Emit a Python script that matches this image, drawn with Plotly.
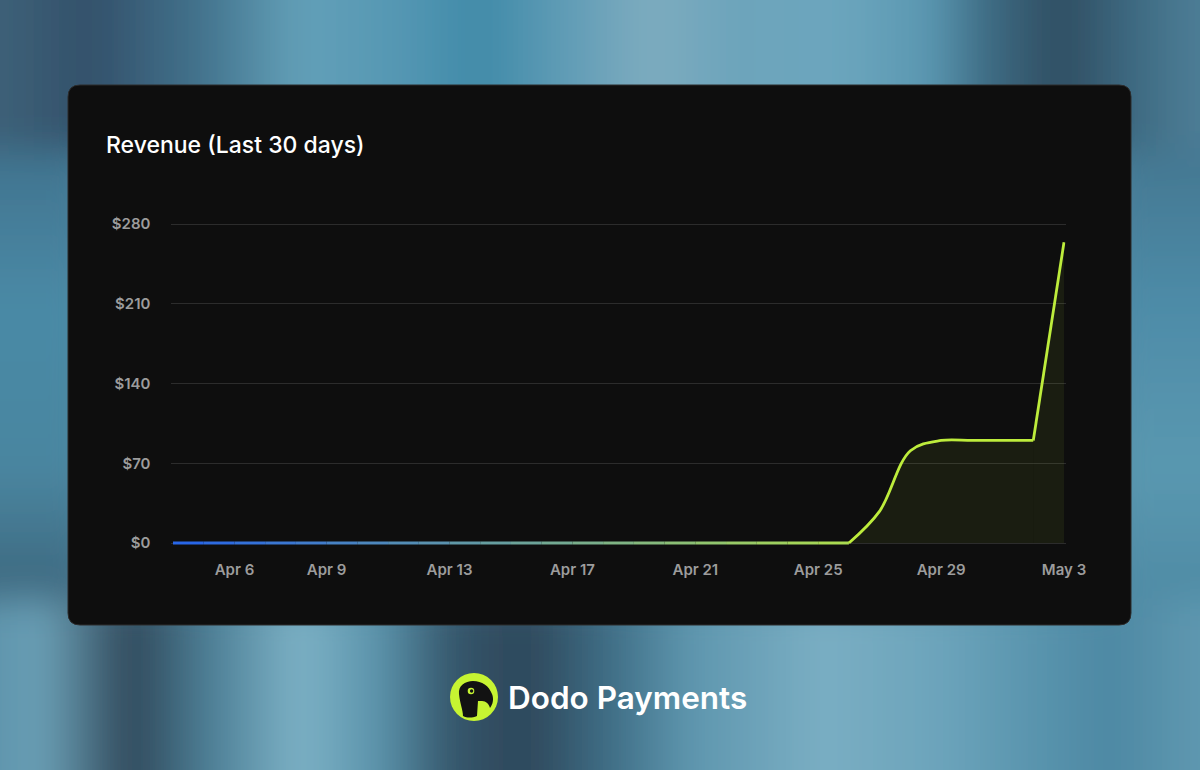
import base64
from datetime import datetime, timedelta
import plotly.graph_objects as go

# ---------------- data ----------------
dates = [
    "2025-04-04", "2025-04-05", "2025-04-06", "2025-04-07", "2025-04-08",
    "2025-04-09", "2025-04-10", "2025-04-11", "2025-04-12", "2025-04-13",
    "2025-04-14", "2025-04-15", "2025-04-16", "2025-04-17", "2025-04-18",
    "2025-04-19", "2025-04-20", "2025-04-21", "2025-04-22", "2025-04-23",
    "2025-04-24", "2025-04-25", "2025-04-26", "2025-04-27", "2025-04-28",
    "2025-04-29", "2025-04-30", "2025-05-01", "2025-05-02", "2025-05-03",
]
revenue = [
    0, 0, 0, 0, 0,
    0, 0, 0, 0, 0,
    0, 0, 0, 0, 0,
    0, 0, 0, 0, 0,
    0, 0, 0, 28, 81,
    90, 90, 90, 90, 264,
]
y_tick_values = [0, 70, 140, 210, 280]
y_tick_labels = ["$0", "$70", "$140", "$210", "$280"]
x_tick_dates = ["2025-04-06", "2025-04-09", "2025-04-13", "2025-04-17",
                "2025-04-21", "2025-04-25", "2025-04-29", "2025-05-03"]
x_tick_labels = ["Apr 6", "Apr 9", "Apr 13", "Apr 17",
                 "Apr 21", "Apr 25", "Apr 29", "May 3"]
title_text = "Revenue (Last 30 days)"
brand_text = "Dodo Payments"

# ---------------- geometry helpers ----------------
W, H = 1200, 770


def px(x):
    return x / W


def py(y):
    return 1 - y / H


X0_PX, X1_PX = 173, 1064      # first / last date
Y0_PX, YTOP_PX = 543, 224     # $0 / $280
day_px = (X1_PX - X0_PX) / (len(dates) - 1)
pad_days = 0.05
unit = (Y0_PX - YTOP_PX) / 280
ypad = 4
x_domain = [px(X0_PX - pad_days * day_px), px(X1_PX + pad_days * day_px)]
y_domain = [py(Y0_PX + ypad * unit), py(YTOP_PX - ypad * unit)]
d0 = datetime.fromisoformat(dates[0]) - timedelta(days=pad_days)
d1 = datetime.fromisoformat(dates[-1]) + timedelta(days=pad_days)
x_range = [d0.strftime("%Y-%m-%d %H:%M:%S"), d1.strftime("%Y-%m-%d %H:%M:%S")]

BLUE = "#2563eb"
LIME = "#c6f432"
LINE_LIME = "#bdec3c"
FILL = "rgba(190,236,60,0.065)"
LW = 2.8


def hex2rgb(h):
    h = h.lstrip("#")
    return tuple(int(h[i:i + 2], 16) for i in (0, 2, 4))


def lerp(c1, c2, t):
    a, b = hex2rgb(c1), hex2rgb(c2)
    t = max(0.0, min(1.0, t))
    return "rgb({},{},{})".format(*[round(a[i] + (b[i] - a[i]) * t) for i in range(3)])


# ---------------- background (blurred svg) ----------------
def grad_stops(lst, lo, span):
    return "".join(
        f"<stop offset='{(x - lo) / span:.4f}' stop-color='{c}'/>" for x, c in lst
    )


top_stops = [(0, '#3d6178'), (90, '#33506a'), (200, '#42728c'), (300, '#63a0b8'),
             (400, '#5597b3'), (480, '#3f8aa8'), (560, '#5e9bb5'), (650, '#7eacbf'),
             (730, '#6da4bb'), (840, '#6ca6bd'), (930, '#5a97b1'), (985, '#3e6c84'),
             (1060, '#2f4d61'), (1140, '#3f6c84'), (1200, '#4e7e96')]
bot_stops = [(0, '#5e94ac'), (40, '#6ca1b7'), (130, '#2f4759'), (210, '#4d7f96'),
             (300, '#7db2c6'), (380, '#5a92aa'), (450, '#35576c'), (525, '#2d4659'),
             (610, '#3f6e86'), (690, '#5e96ae'), (820, '#7aaec3'), (940, '#6ca4bb'),
             (1030, '#5a95ae'), (1110, '#4d88a3'), (1200, '#5f98b0')]
left_stops = [(0, '#3d6a85'), (0.4, '#4a8aa6'), (0.7, '#4a86a0'), (1, '#3a5f75')]
right_stops = [(0, '#3f6f88'), (0.4, '#4e8ca8'), (0.7, '#5a98b0'), (1, '#4c88a2')]

svg = (
    "<svg xmlns='http://www.w3.org/2000/svg' width='1200' height='770' viewBox='0 0 1200 770'>"
    "<defs>"
    f"<linearGradient id='t' x1='0' y1='0' x2='1' y2='0'>{grad_stops(top_stops, -100, 1400)}</linearGradient>"
    f"<linearGradient id='b' x1='0' y1='0' x2='1' y2='0'>{grad_stops(bot_stops, -100, 1400)}</linearGradient>"
    f"<linearGradient id='l' x1='0' y1='0' x2='0' y2='1'>{grad_stops(left_stops, 0, 1)}</linearGradient>"
    f"<linearGradient id='r' x1='0' y1='0' x2='0' y2='1'>{grad_stops(right_stops, 0, 1)}</linearGradient>"
    "<filter id='f' filterUnits='userSpaceOnUse' x='-300' y='-300' width='1800' height='1370'>"
    "<feGaussianBlur stdDeviation='18'/></filter>"
    "</defs>"
    "<rect x='0' y='0' width='1200' height='770' fill='#4f86a0'/>"
    "<g filter='url(#f)'>"
    "<rect x='-100' y='90' width='190' height='540' fill='url(#l)'/>"
    "<rect x='1110' y='90' width='190' height='540' fill='url(#r)'/>"
    "<rect x='-100' y='-100' width='1400' height='250' fill='url(#t)'/>"
    "<rect x='-100' y='600' width='1400' height='270' fill='url(#b)'/>"
    "</g></svg>"
)
bg_uri = "data:image/svg+xml;base64," + base64.b64encode(svg.encode()).decode()

# ---------------- traces ----------------
fig = go.Figure()

n = len(revenue)
rise_idx = next(i for i in range(n - 1) if revenue[i + 1] != revenue[i])
grad_end = dates.index("2025-04-30")

# flat part with blue -> lime gradient, one short segment per day
for i in range(rise_idx):
    fig.add_trace(go.Scatter(
        x=[dates[i], dates[i + 1]], y=[revenue[i], revenue[i + 1]],
        mode="lines", line=dict(color=lerp(BLUE, LIME, (i + 0.5) / grad_end), width=LW),
        hoverinfo="skip", showlegend=False,
    ))

# smooth rise and plateau
fig.add_trace(go.Scatter(
    x=dates[rise_idx:n - 1], y=revenue[rise_idx:n - 1],
    mode="lines", line=dict(color=LINE_LIME, width=LW, shape="spline", smoothing=1.0),
    fill="tozeroy", fillcolor=FILL, hoverinfo="skip", showlegend=False,
))
# final jump
fig.add_trace(go.Scatter(
    x=dates[n - 2:], y=revenue[n - 2:],
    mode="lines", line=dict(color=LINE_LIME, width=LW),
    fill="tozeroy", fillcolor=FILL, hoverinfo="skip", showlegend=False,
))


# ---------------- shapes ----------------
def rounded_rect(x0, y0, x1, y1, r):
    P = lambda x, y: f"{px(x):.5f},{py(y):.5f}"
    return (f"M {P(x0 + r, y0)} L {P(x1 - r, y0)} Q {P(x1, y0)} {P(x1, y0 + r)} "
            f"L {P(x1, y1 - r)} Q {P(x1, y1)} {P(x1 - r, y1)} "
            f"L {P(x0 + r, y1)} Q {P(x0, y1)} {P(x0, y1 - r)} "
            f"L {P(x0, y0 + r)} Q {P(x0, y0)} {P(x0 + r, y0)} Z")


def circle(cx, cy, r, color):
    return dict(type="circle", xref="paper", yref="paper",
                x0=px(cx - r), x1=px(cx + r), y0=py(cy + r), y1=py(cy - r),
                fillcolor=color, line=dict(width=0), layer="above")


def path_px(cmds):
    out = []
    for c in cmds:
        if isinstance(c, str):
            out.append(c)
        else:
            out.append(f"{px(c[0]):.5f},{py(c[1]):.5f}")
    return " ".join(out)


dodo = path_px([
    "M", (459, 694),
    "C", (458, 686), (465, 681), (473, 681),
    "C", (482, 681), (489, 686), (492, 694),
    "C", (494, 699), (493, 704), (490, 708),
    "C", (489, 704), (486, 701), (482, 701),
    "L", (478, 701),
    "L", (477, 716),
    "C", (472, 718), (467, 718), (463, 716),
    "C", (463, 710), (460, 704), (459, 694),
    "Z",
])

shapes = [
    dict(type="path", xref="paper", yref="paper", path=rounded_rect(68, 85, 1131, 625, 12),
         fillcolor="#0e0e0e", line=dict(color="#2c2c2c", width=1), layer="below"),
    circle(474, 697, 24, LIME),
    dict(type="path", xref="paper", yref="paper", path=dodo,
         fillcolor="#121212", line=dict(width=0), layer="above"),
    circle(471, 691, 3.3, LIME),
    circle(471.6, 691, 1.7, "#121212"),
]

tick_font = dict(family="Inter, Noto Sans, sans-serif", size=15, color="#9c9c9c", weight=600)

fig.update_layout(
    width=W, height=H, autosize=False,
    margin=dict(l=0, r=0, t=0, b=0, pad=0, autoexpand=False),
    paper_bgcolor="#4f86a0",
    plot_bgcolor="rgba(0,0,0,0)",
    showlegend=False,
    images=[dict(source=bg_uri, xref="paper", yref="paper", x=0, y=1, sizex=1, sizey=1,
                 xanchor="left", yanchor="top", sizing="stretch", layer="below")],
    shapes=shapes,
    xaxis=dict(domain=x_domain, type="date", range=x_range, showgrid=False, zeroline=False,
               showline=False, ticks="", tickvals=x_tick_dates, ticktext=x_tick_labels,
               tickfont=tick_font, ticklabelstandoff=11, fixedrange=True, automargin=False),
    yaxis=dict(domain=y_domain, range=[-ypad, 280 + ypad], showgrid=True, gridcolor="#2c2c2c",
               gridwidth=1, zeroline=False, showline=False, ticks="",
               tickvals=y_tick_values, ticktext=y_tick_labels, tickfont=tick_font,
               ticklabelstandoff=20, fixedrange=True, automargin=False),
    annotations=[
        dict(text=title_text, x=px(104), y=py(145), xref="paper", yref="paper",
             xanchor="left", yanchor="middle", showarrow=False,
             font=dict(family="Inter, Noto Sans, sans-serif", size=23, color="#ffffff", weight=500)),
        dict(text=brand_text, x=px(506), y=py(697), xref="paper", yref="paper",
             xanchor="left", yanchor="middle", showarrow=False,
             font=dict(family="Inter, Noto Sans, sans-serif", size=31.5, color="#ffffff", weight=600)),
    ],
)

fig.write_html("out.html", config={"displayModeBar": False, "responsive": False},
               default_width="1200px", default_height="770px",
               post_script="document.body.style.margin='0';document.body.style.overflow='hidden';")
